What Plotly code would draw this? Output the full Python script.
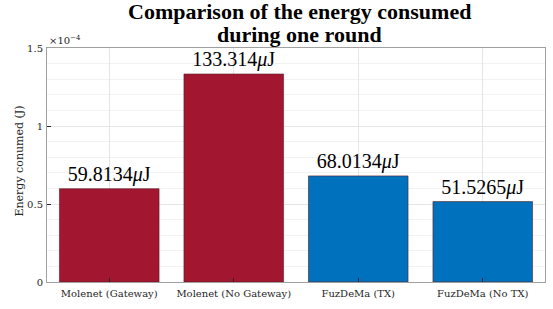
import plotly.graph_objects as go

categories = ["Molenet (Gateway)", "Molenet (No Gateway)", "FuzDeMa (TX)", "FuzDeMa (No TX)"]
energy_uj = [59.8134, 133.314, 68.0134, 51.5265]
label_nums = ["59.8134", "133.314", "68.0134", "51.5265"]
bar_colors = ["#A21630", "#A21630", "#0072BD", "#0072BD"]
ytick_vals = [0, 0.5e-4, 1e-4, 1.5e-4]
ytick_text = ["0", "0.5", "1", "1.5"]
title_lines = ["Comparison of the energy consumed", "during one round"]

energy_j = [v * 1e-6 for v in energy_uj]
labels = [f"{n}<i>μ</i>J" for n in label_nums]

fig = go.Figure()
fig.add_trace(go.Bar(
    x=list(range(1, len(categories) + 1)),
    y=energy_j,
    width=0.8,
    marker=dict(color=bar_colors, line=dict(color="#5a1a20", width=0.6)),
    text=labels,
    textposition="outside",
    textfont=dict(family="Liberation Serif", size=20, color="black"),
    cliponaxis=False,
))

fig.update_layout(
    width=553, height=309,
    margin=dict(l=47, r=8, t=48, b=27),
    paper_bgcolor="white", plot_bgcolor="white",
    showlegend=False,
    font=dict(family="DejaVu Serif", size=10, color="#262626"),
)
for line, ypos in zip(title_lines, [1.156, 1.058]):
    fig.add_annotation(
        text=f"<b>{line}</b>",
        xref="paper", yref="paper", x=0.508, y=ypos,
        xanchor="center", yanchor="middle", showarrow=False,
        font=dict(family="Liberation Serif", size=22, color="black"),
    )
fig.update_xaxes(
    range=[0.5, 4.5],
    tickvals=list(range(1, len(categories) + 1)),
    ticktext=categories,
    ticks="inside", ticklen=4, tickcolor="#262626",
    ticklabelstandoff=2,
    showgrid=True, gridcolor="#e6e6e6", gridwidth=1,
    showline=True, linecolor="#a0a0a0", linewidth=1, mirror=True,
    tickfont=dict(family="DejaVu Serif", size=10, color="#262626"),
    zeroline=False,
)
fig.update_yaxes(
    range=[0, 1.5e-4],
    tickvals=ytick_vals, ticktext=ytick_text,
    ticks="inside", ticklen=4, tickcolor="#262626",
    ticklabelstandoff=1,
    showgrid=True, gridcolor="#e6e6e6", gridwidth=1,
    minor=dict(dtick=0.1e-4, showgrid=True, gridcolor="#f2f2f2", gridwidth=1, ticks=""),
    showline=True, linecolor="#a0a0a0", linewidth=1, mirror=True,
    zeroline=False,
    tickfont=dict(family="DejaVu Serif", size=10, color="#262626"),
)
fig.add_annotation(
    text="Energy conumed (J)", xref="paper", yref="paper", x=-0.0552, y=0.517,
    xanchor="center", yanchor="middle", textangle=-90, showarrow=False,
    font=dict(family="DejaVu Serif", size=11, color="#262626"),
)
fig.add_annotation(
    text="×10<sup>−4</sup>", xref="paper", yref="paper", x=0, y=1.0,
    xanchor="left", yanchor="bottom", showarrow=False,
    font=dict(family="DejaVu Serif", size=10, color="#262626"),
)
fig.write_html("out.html", config={"displayModeBar": False},
               post_script="document.body.style.margin='0';")
